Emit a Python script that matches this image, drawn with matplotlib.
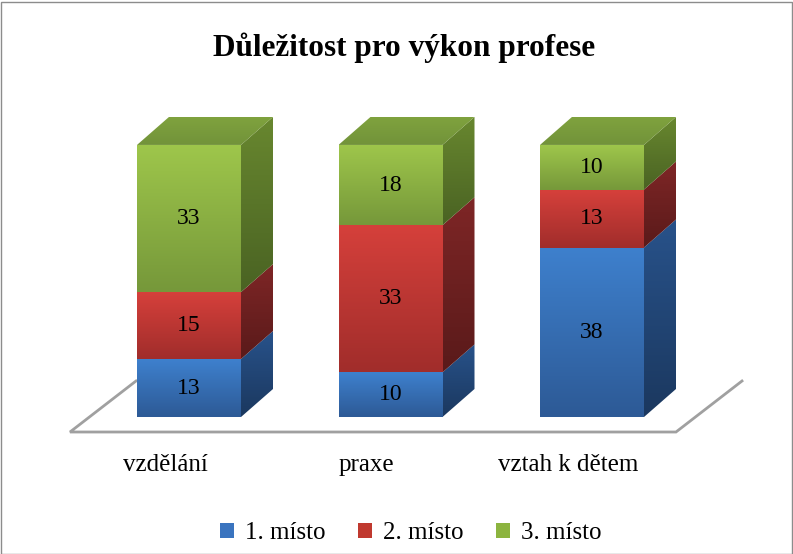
import numpy as np
import matplotlib
matplotlib.use("Agg")
import matplotlib.pyplot as plt
from matplotlib.patches import Polygon, Patch, Rectangle
from matplotlib.colors import LinearSegmentedColormap

plt.rcParams['font.family'] = ['Liberation Serif', 'DejaVu Serif']

categories = ['vzdělání', 'praxe', 'vztah k dětem']
series_names = ['1. místo', '2. místo', '3. místo']
misto1 = [13, 10, 38]
misto2 = [15, 33, 13]
misto3 = [33, 18, 10]
title = 'Důležitost pro výkon profese'

# front (top, bottom), side (top, bottom)
front_cols = [('#3E80CD', '#2D5A96'), ('#D5403B', '#A12D2B'), ('#9EC64B', '#76983A')]
side_cols = [('#28528A', '#1B385F'), ('#7E2626', '#5A1A1A'), ('#68872F', '#4A6323')]
top_col = ('#7FA23E', '#72933A')
legend_cols = ['#3A74BF', '#C0392F', '#8CB43F']

W, H, DPI = 793, 554, 100
fig = plt.figure(figsize=(W / DPI, H / DPI), dpi=DPI)
ax = fig.add_axes([0, 0, 1, 1])

# layout: pixel mapping
x_px0, x_step = 189, 201.5   # center of first bar, spacing
y_px0, y_scale = 417, 4.46   # baseline pixel, px per unit
ax.set_xlim(-x_px0 / x_step, (W - x_px0) / x_step)
ax.set_ylim((y_px0 - H) / y_scale, y_px0 / y_scale)
ax.axis('off')

bw = 104 / x_step
ddx, ddy = 32 / x_step, 28 / y_scale


def grad_poly(pts, c_top, c_bot, z=2):
    pts = np.array(pts)
    poly = Polygon(pts, closed=True, facecolor='none', edgecolor='none')
    ax.add_patch(poly)
    cmap = LinearSegmentedColormap.from_list('g', [c_bot, c_top])
    g = np.linspace(0, 1, 64).reshape(-1, 1)
    im = ax.imshow(g, cmap=cmap, origin='lower', aspect='auto', zorder=z,
                   extent=[pts[:, 0].min(), pts[:, 0].max(), pts[:, 1].min(), pts[:, 1].max()],
                   interpolation='bilinear')
    im.set_clip_path(poly)


# floor outline
fl_x0, fl_x1 = (70 - x_px0) / x_step, (676 - x_px0) / x_step
fl_y = (y_px0 - 432) / y_scale
fdx, fdy = 66 / x_step, 51 / y_scale
ax.plot([fl_x0 + fdx, fl_x0, fl_x1, fl_x1 + fdx], [fl_y + fdy, fl_y, fl_y, fl_y + fdy],
        color='#A0A0A0', lw=2, zorder=1, solid_joinstyle='miter')

stack = np.array([misto1, misto2, misto3], dtype=float)
for i, cat in enumerate(categories):
    x0, x1 = i - bw / 2, i + bw / 2
    bottom = 0.0
    for s in range(len(series_names)):
        v = stack[s, i]
        top = bottom + v
        grad_poly([(x1, bottom), (x1 + ddx, bottom + ddy), (x1 + ddx, top + ddy), (x1, top)],
                  side_cols[s][0], side_cols[s][1], z=2)
        grad_poly([(x0, bottom), (x1, bottom), (x1, top), (x0, top)],
                  front_cols[s][0], front_cols[s][1], z=3)
        ax.text(i, bottom + v / 2, f'{int(v)}', ha='center', va='center',
                fontsize=17, color='black', zorder=5)
        bottom = top
    grad_poly([(x0, bottom), (x0 + ddx, bottom + ddy), (x1 + ddx, bottom + ddy), (x1, bottom)],
              top_col[0], top_col[1], z=3)
    ax.text(i - 24 / x_step, (y_px0 - 465) / y_scale, cat, ha='center', va='center',
            fontsize=18, color='black')

fig.text(0.51, 1 - 48 / H, title, ha='center', va='center', fontsize=22.5,
         fontweight='bold', color='black')

handles = [Patch(facecolor=c, edgecolor='none') for c in legend_cols]
fig.legend(handles, series_names, loc='center', bbox_to_anchor=(0.518, 1 - 533 / H),
           ncol=3, frameon=False, fontsize=18, handlelength=0.55, handleheight=0.55,
           handletextpad=0.45, columnspacing=1.3)

fig.patches.append(Rectangle((0.5 / W, 0.5 / H), 1 - 2 / W, 1 - 2 / H, transform=fig.transFigure,
                             fill=False, edgecolor='#8C8C8C', lw=1))

fig.savefig('out.png', dpi=DPI)
